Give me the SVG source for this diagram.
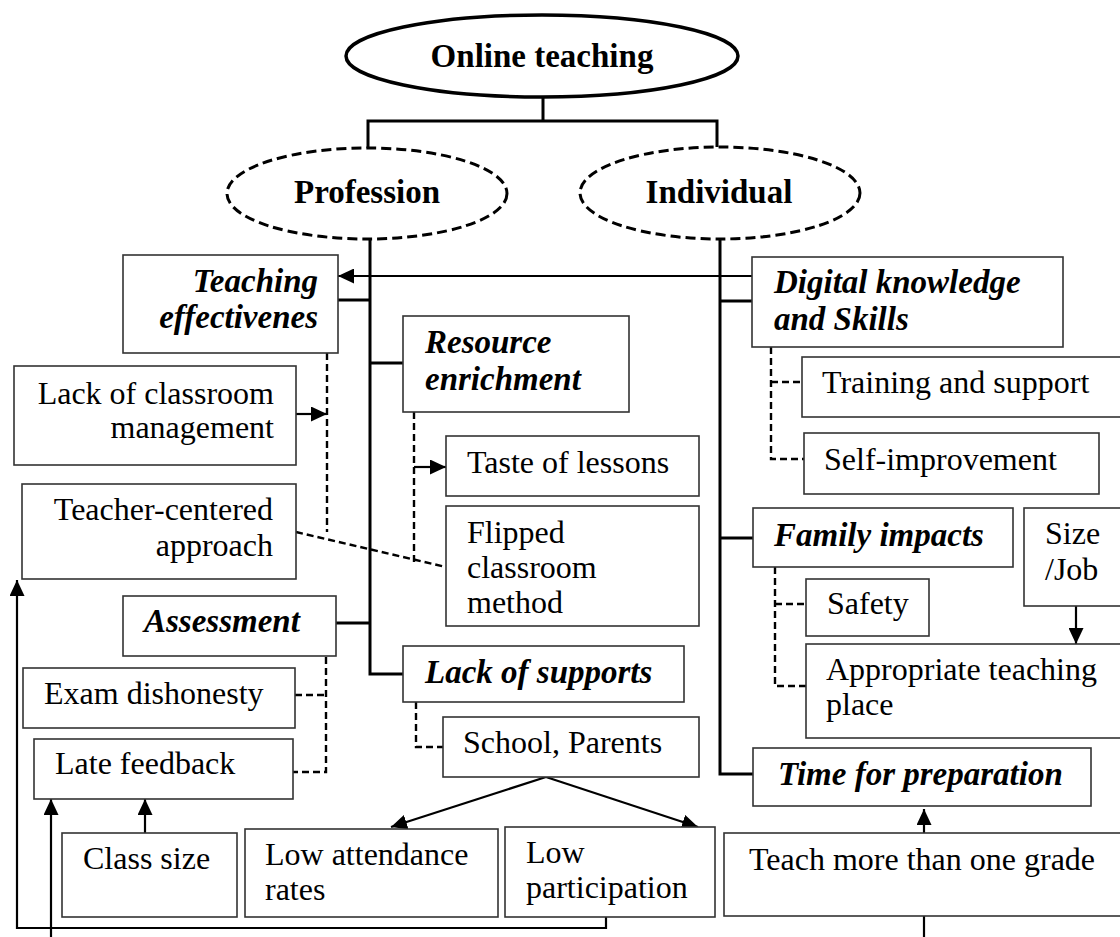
<svg xmlns="http://www.w3.org/2000/svg" width="1120" height="937" viewBox="0 0 1120 937">
<defs>
<marker id="ah" markerUnits="userSpaceOnUse" markerWidth="17" markerHeight="15" refX="16" refY="7.5" orient="auto">
<path d="M0,0 L16,7.5 L0,15 Z" fill="#000"/>
</marker>
<style>
text{font-family:"Liberation Serif","Times New Roman",serif;font-size:32px;fill:#000}
.h{font-weight:bold;font-size:33px}
.bi{font-weight:bold;font-style:italic;font-size:33px}
.e{text-anchor:end}
.m{text-anchor:middle}
.box{fill:#fff;stroke:#333;stroke-width:1.6}
.thick{fill:none;stroke:#000;stroke-width:3}
.dash{fill:none;stroke:#000;stroke-width:2.4;stroke-dasharray:7 4}
.arr{fill:none;stroke:#000;stroke-width:2.2;marker-end:url(#ah)}
.ln{fill:none;stroke:#000;stroke-width:2.2}
</style>
</defs>
<rect width="1120" height="937" fill="#fff"/>
<g id="connectors">
<path class="thick" d="M543,97 V121 M368,148 V121 H717 V147"/>
<path class="thick" d="M370,239 V674 H403 M338,300 H370 M370,363 H403 M336,623 H370"/>
<path class="thick" d="M720,239 V774 H753 M720,301 H752 M720,538 H753"/>
<path class="dash" d="M327,353 V532"/>
<path class="dash" d="M296,532 L446,567"/>
<path class="dash" d="M414,412 V564"/>
<path class="dash" d="M326,657 V772 H293 M295,695 H326"/>
<path class="dash" d="M416,702 V747 H443"/>
<path class="dash" d="M771,347 V459 H804 M771,382 H802"/>
<path class="dash" d="M775,567 V686 H806 M775,604 H806"/>
<path class="arr" d="M752,276 H338"/>
<path class="arr" d="M296,414 H327"/>
<path class="arr" d="M414,467 H446"/>
<path class="arr" d="M546,777 L391,827"/>
<path class="arr" d="M546,777 L698,827"/>
<path class="arr" d="M145,833 V799"/>
<path class="arr" d="M51,937 V799"/>
<path class="arr" d="M606,917 V928 H17 V580"/>
<path class="arr" d="M1076,606 V644"/>
<path class="arr" d="M924,833 V809"/>
<path class="ln" d="M924,916 V937"/>
</g>
<g id="online-teaching">
<ellipse cx="542" cy="56" rx="196" ry="41" fill="#fff" stroke="#000" stroke-width="3.5"/>
<text class="h m" x="542" y="67">Online teaching</text>
</g>
<g id="profession">
<ellipse cx="367" cy="193.5" rx="140" ry="45.5" fill="#fff" stroke="#000" stroke-width="3" stroke-dasharray="10 5"/>
<text class="h m" x="367" y="203">Profession</text>
</g>
<g id="individual">
<ellipse cx="720" cy="193" rx="140" ry="46" fill="#fff" stroke="#000" stroke-width="3" stroke-dasharray="10 5"/>
<text class="h m" x="719" y="203">Individual</text>
</g>
<g id="teaching-effectivenes">
<rect class="box" x="123" y="255" width="215" height="98"/>
<text class="bi e" x="318" y="292">Teaching</text>
<text class="bi e" x="318" y="328">effectivenes</text>
</g>
<g id="lack-classroom">
<rect class="box" x="14" y="366" width="282" height="99"/>
<text class="e" x="274" y="404">Lack of classroom</text>
<text class="e" x="274" y="438">management</text>
</g>
<g id="teacher-centered">
<rect class="box" x="22" y="484" width="274" height="95"/>
<text class="e" x="273" y="520">Teacher-centered</text>
<text class="e" x="273" y="556">approach</text>
</g>
<g id="assessment">
<rect class="box" x="123" y="596" width="213" height="60"/>
<text class="bi" x="144" y="632">Assessment</text>
</g>
<g id="exam-dishonesty">
<rect class="box" x="23" y="668" width="272" height="60"/>
<text x="44" y="704">Exam dishonesty</text>
</g>
<g id="late-feedback">
<rect class="box" x="34" y="739" width="259" height="60"/>
<text x="55" y="774">Late feedback</text>
</g>
<g id="class-size">
<rect class="box" x="62" y="833" width="175" height="84"/>
<text x="83" y="869">Class size</text>
</g>
<g id="low-attendance">
<rect class="box" x="245" y="829" width="253" height="88"/>
<text x="265" y="865">Low attendance</text>
<text x="265" y="900">rates</text>
</g>
<g id="low-participation">
<rect class="box" x="505" y="827" width="210" height="90"/>
<text x="526" y="863">Low</text>
<text x="526" y="898">participation</text>
</g>
<g id="resource-enrichment">
<rect class="box" x="403" y="316" width="226" height="96"/>
<text class="bi" x="425" y="353">Resource</text>
<text class="bi" x="425" y="390">enrichment</text>
</g>
<g id="taste-of-lessons">
<rect class="box" x="446" y="436" width="253" height="60"/>
<text x="467" y="473">Taste of lessons</text>
</g>
<g id="flipped-classroom">
<rect class="box" x="446" y="506" width="253" height="120"/>
<text x="467" y="543">Flipped</text>
<text x="467" y="578">classroom</text>
<text x="467" y="613">method</text>
</g>
<g id="lack-of-supports">
<rect class="box" x="403" y="646" width="281" height="56"/>
<text class="bi" x="425" y="683">Lack of supports</text>
</g>
<g id="school-parents">
<rect class="box" x="443" y="717" width="256" height="60"/>
<text x="463" y="753">School, Parents</text>
</g>
<g id="digital-knowledge">
<rect class="box" x="752" y="257" width="311" height="90"/>
<text class="bi" x="774" y="293">Digital knowledge</text>
<text class="bi" x="774" y="330">and Skills</text>
</g>
<g id="training-support">
<rect class="box" x="802" y="357" width="330" height="60"/>
<text x="822" y="393">Training and support</text>
</g>
<g id="self-improvement">
<rect class="box" x="804" y="433" width="295" height="61"/>
<text x="824" y="470">Self-improvement</text>
</g>
<g id="family-impacts">
<rect class="box" x="753" y="508" width="260" height="59"/>
<text class="bi" x="774" y="546">Family impacts</text>
</g>
<g id="size-job">
<rect class="box" x="1024" y="508" width="110" height="98"/>
<text x="1045" y="544">Size</text>
<text x="1045" y="580">/Job</text>
</g>
<g id="safety">
<rect class="box" x="806" y="579" width="123" height="57"/>
<text x="827" y="614">Safety</text>
</g>
<g id="appropriate-place">
<rect class="box" x="806" y="644" width="330" height="94"/>
<text x="826" y="680">Appropriate teaching</text>
<text x="826" y="715">place</text>
</g>
<g id="time-preparation">
<rect class="box" x="753" y="748" width="338" height="58"/>
<text class="bi" x="778" y="785">Time for preparation</text>
</g>
<g id="teach-more">
<rect class="box" x="724" y="833" width="410" height="83"/>
<text x="749" y="870">Teach more than one grade</text>
</g>
</svg>
